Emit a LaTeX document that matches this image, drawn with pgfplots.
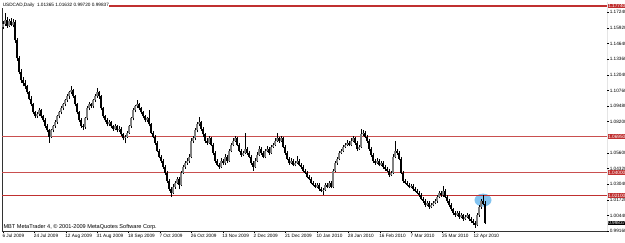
\documentclass[border=0pt]{standalone}
\usepackage{pgfplots}
\pgfplotsset{compat=1.18}
\usepackage{pgfplotstable}
\usepackage{fontspec}
\setmainfont{Liberation Sans}
\definecolor{mtred}{RGB}{192,48,48}
\definecolor{mtblue}{RGB}{130,195,240}
\newcommand\mtfont{\fontsize{4.7}{5.5}\selectfont}
\pgfplotstableread{
i o h l c
0 1.1600 1.1650 1.1585 1.1625
1 1.1625 1.1716 1.1610 1.1660
2 1.1660 1.1680 1.1595 1.1610
3 1.1610 1.1670 1.1600 1.1650
4 1.1650 1.1675 1.1605 1.1620
5 1.1620 1.1668 1.1598 1.1645
6 1.1645 1.1660 1.1470 1.1492
7 1.1492 1.1510 1.1320 1.1343
8 1.1343 1.1360 1.1210 1.1227
9 1.1227 1.1250 1.1140 1.1160
10 1.1160 1.1185 1.1110 1.1135
11 1.1135 1.1160 1.1090 1.1110
12 1.1110 1.1125 1.1045 1.1060
13 1.1060 1.1075 1.0995 1.1010
14 1.1010 1.1030 1.0945 1.0961
15 1.0961 1.0975 1.0880 1.0895
16 1.0895 1.0910 1.0845 1.0862
17 1.0862 1.0900 1.0850 1.0879
18 1.0879 1.0930 1.0865 1.0912
19 1.0912 1.0920 1.0850 1.0862
20 1.0862 1.0875 1.0815 1.0829
21 1.0829 1.0845 1.0770 1.0787
22 1.0787 1.0800 1.0730 1.0746
23 1.0746 1.0760 1.0646 1.0696
24 1.0696 1.0760 1.0685 1.0746
25 1.0746 1.0795 1.0730 1.0779
26 1.0779 1.0830 1.0765 1.0812
27 1.0812 1.0875 1.0800 1.0862
28 1.0862 1.0910 1.0845 1.0895
29 1.0895 1.0945 1.0880 1.0928
30 1.0928 1.0975 1.0915 1.0961
31 1.0961 1.1010 1.0945 1.0995
32 1.0995 1.1045 1.0980 1.1028
33 1.1028 1.1075 1.1010 1.1061
34 1.1061 1.1110 1.1045 1.1077
35 1.1077 1.1090 1.1015 1.1028
36 1.1028 1.1040 1.0945 1.0961
37 1.0961 1.0975 1.0880 1.0895
38 1.0895 1.0910 1.0815 1.0829
39 1.0829 1.0845 1.0770 1.0787
40 1.0787 1.0800 1.0750 1.0771
41 1.0771 1.0860 1.0760 1.0845
42 1.0845 1.0945 1.0830 1.0928
43 1.0928 1.0980 1.0915 1.0961
44 1.0961 1.0975 1.0930 1.0945
45 1.0945 1.1010 1.0930 1.0995
46 1.0995 1.1045 1.0980 1.1028
47 1.1028 1.1095 1.1015 1.1061
48 1.1061 1.1075 1.1010 1.1028
49 1.1028 1.1040 1.0915 1.0928
50 1.0928 1.0940 1.0845 1.0862
51 1.0862 1.0875 1.0815 1.0829
52 1.0829 1.0845 1.0780 1.0796
53 1.0796 1.0830 1.0785 1.0812
54 1.0812 1.0825 1.0765 1.0779
55 1.0779 1.0795 1.0745 1.0762
56 1.0762 1.0800 1.0750 1.0779
57 1.0779 1.0790 1.0730 1.0746
58 1.0746 1.0780 1.0735 1.0762
59 1.0762 1.0775 1.0700 1.0713
60 1.0713 1.0725 1.0665 1.0680
61 1.0680 1.0710 1.0640 1.0696
62 1.0696 1.0745 1.0685 1.0729
63 1.0729 1.0795 1.0715 1.0779
64 1.0779 1.0860 1.0765 1.0845
65 1.0845 1.0930 1.0830 1.0912
66 1.0912 1.0960 1.0895 1.0945
67 1.0945 1.0995 1.0930 1.0961
68 1.0961 1.0975 1.0915 1.0928
69 1.0928 1.0940 1.0880 1.0895
70 1.0895 1.0910 1.0845 1.0862
71 1.0862 1.0875 1.0815 1.0829
72 1.0829 1.0860 1.0815 1.0845
73 1.0845 1.0912 1.0780 1.0796
74 1.0796 1.0810 1.0715 1.0729
75 1.0729 1.0745 1.0680 1.0696
76 1.0696 1.0710 1.0630 1.0646
77 1.0646 1.0660 1.0565 1.0580
78 1.0580 1.0595 1.0515 1.0530
79 1.0530 1.0545 1.0480 1.0497
80 1.0497 1.0510 1.0430 1.0447
81 1.0447 1.0460 1.0380 1.0398
82 1.0398 1.0410 1.0315 1.0331
83 1.0331 1.0345 1.0250 1.0265
84 1.0265 1.0280 1.0195 1.0232
85 1.0232 1.0300 1.0220 1.0282
86 1.0282 1.0330 1.0265 1.0315
87 1.0315 1.0365 1.0300 1.0348
88 1.0348 1.0360 1.0260 1.0298
89 1.0298 1.0415 1.0285 1.0398
90 1.0398 1.0465 1.0385 1.0447
91 1.0447 1.0495 1.0430 1.0480
92 1.0480 1.0515 1.0465 1.0497
93 1.0497 1.0550 1.0480 1.0530
94 1.0530 1.0680 1.0515 1.0663
95 1.0663 1.0700 1.0645 1.0680
96 1.0680 1.0765 1.0665 1.0746
97 1.0746 1.0815 1.0730 1.0796
98 1.0796 1.0854 1.0780 1.0812
99 1.0812 1.0825 1.0745 1.0762
100 1.0762 1.0775 1.0695 1.0713
101 1.0713 1.0725 1.0645 1.0663
102 1.0663 1.0680 1.0630 1.0646
103 1.0646 1.0700 1.0635 1.0680
104 1.0680 1.0695 1.0615 1.0630
105 1.0630 1.0645 1.0545 1.0563
106 1.0563 1.0575 1.0480 1.0497
107 1.0497 1.0510 1.0450 1.0464
108 1.0464 1.0480 1.0430 1.0447
109 1.0447 1.0515 1.0435 1.0497
110 1.0497 1.0510 1.0465 1.0480
111 1.0480 1.0550 1.0465 1.0530
112 1.0530 1.0545 1.0480 1.0497
113 1.0497 1.0595 1.0485 1.0580
114 1.0580 1.0645 1.0565 1.0630
115 1.0630 1.0680 1.0615 1.0663
116 1.0663 1.0700 1.0650 1.0680
117 1.0680 1.0695 1.0615 1.0630
118 1.0630 1.0645 1.0565 1.0580
119 1.0580 1.0595 1.0530 1.0547
120 1.0547 1.0580 1.0535 1.0563
121 1.0563 1.0729 1.0550 1.0597
122 1.0597 1.0610 1.0545 1.0563
123 1.0563 1.0575 1.0515 1.0530
124 1.0530 1.0545 1.0465 1.0480
125 1.0480 1.0495 1.0414 1.0447
126 1.0447 1.0515 1.0435 1.0497
127 1.0497 1.0565 1.0485 1.0547
128 1.0547 1.0615 1.0535 1.0597
129 1.0597 1.0610 1.0545 1.0563
130 1.0563 1.0575 1.0515 1.0530
131 1.0530 1.0595 1.0515 1.0580
132 1.0580 1.0615 1.0565 1.0597
133 1.0597 1.0610 1.0545 1.0563
134 1.0563 1.0630 1.0550 1.0613
135 1.0613 1.0645 1.0600 1.0630
136 1.0630 1.0680 1.0615 1.0663
137 1.0663 1.0729 1.0650 1.0680
138 1.0680 1.0695 1.0645 1.0663
139 1.0663 1.0700 1.0650 1.0680
140 1.0680 1.0695 1.0600 1.0613
141 1.0613 1.0625 1.0545 1.0563
142 1.0563 1.0575 1.0500 1.0514
143 1.0514 1.0525 1.0465 1.0480
144 1.0480 1.0515 1.0470 1.0497
145 1.0497 1.0510 1.0450 1.0464
146 1.0464 1.0495 1.0450 1.0480
147 1.0480 1.0538 1.0470 1.0497
148 1.0497 1.0510 1.0450 1.0464
149 1.0464 1.0475 1.0430 1.0447
150 1.0447 1.0460 1.0400 1.0414
151 1.0414 1.0430 1.0385 1.0398
152 1.0398 1.0410 1.0350 1.0364
153 1.0364 1.0380 1.0335 1.0348
154 1.0348 1.0360 1.0300 1.0315
155 1.0315 1.0330 1.0285 1.0298
156 1.0298 1.0310 1.0268 1.0282
157 1.0282 1.0315 1.0270 1.0298
158 1.0298 1.0310 1.0250 1.0265
159 1.0265 1.0280 1.0235 1.0248
160 1.0248 1.0270 1.0212 1.0256
161 1.0256 1.0315 1.0245 1.0298
162 1.0298 1.0310 1.0268 1.0282
163 1.0282 1.0330 1.0270 1.0315
164 1.0315 1.0325 1.0268 1.0282
165 1.0282 1.0430 1.0270 1.0414
166 1.0414 1.0495 1.0400 1.0480
167 1.0480 1.0530 1.0465 1.0514
168 1.0514 1.0580 1.0500 1.0563
169 1.0563 1.0595 1.0550 1.0580
170 1.0580 1.0630 1.0565 1.0613
171 1.0613 1.0645 1.0600 1.0630
172 1.0630 1.0665 1.0615 1.0646
173 1.0646 1.0660 1.0615 1.0630
174 1.0630 1.0680 1.0615 1.0663
175 1.0663 1.0700 1.0650 1.0680
176 1.0680 1.0695 1.0630 1.0646
177 1.0646 1.0660 1.0580 1.0597
178 1.0597 1.0630 1.0585 1.0613
179 1.0613 1.0762 1.0600 1.0713
180 1.0713 1.0750 1.0700 1.0729
181 1.0729 1.0740 1.0680 1.0696
182 1.0696 1.0710 1.0645 1.0663
183 1.0663 1.0675 1.0580 1.0597
184 1.0597 1.0610 1.0530 1.0547
185 1.0547 1.0560 1.0480 1.0497
186 1.0497 1.0510 1.0465 1.0480
187 1.0480 1.0515 1.0470 1.0497
188 1.0497 1.0510 1.0450 1.0464
189 1.0464 1.0495 1.0450 1.0480
190 1.0480 1.0490 1.0430 1.0447
191 1.0447 1.0460 1.0415 1.0431
192 1.0431 1.0445 1.0400 1.0414
193 1.0414 1.0425 1.0365 1.0381
194 1.0381 1.0415 1.0370 1.0398
195 1.0398 1.0550 1.0385 1.0530
196 1.0530 1.0663 1.0515 1.0580
197 1.0580 1.0595 1.0545 1.0563
198 1.0563 1.0575 1.0500 1.0514
199 1.0514 1.0525 1.0385 1.0398
200 1.0398 1.0410 1.0315 1.0331
201 1.0331 1.0345 1.0300 1.0315
202 1.0315 1.0330 1.0285 1.0298
203 1.0298 1.0310 1.0268 1.0282
204 1.0282 1.0305 1.0270 1.0290
205 1.0290 1.0300 1.0250 1.0265
206 1.0265 1.0280 1.0235 1.0248
207 1.0248 1.0260 1.0218 1.0232
208 1.0232 1.0245 1.0200 1.0215
209 1.0215 1.0228 1.0168 1.0182
210 1.0182 1.0195 1.0150 1.0165
211 1.0165 1.0178 1.0118 1.0132
212 1.0132 1.0165 1.0120 1.0149
213 1.0149 1.0160 1.0100 1.0116
214 1.0116 1.0148 1.0105 1.0132
215 1.0132 1.0165 1.0120 1.0149
216 1.0149 1.0180 1.0135 1.0165
217 1.0165 1.0215 1.0150 1.0199
218 1.0199 1.0248 1.0185 1.0232
219 1.0232 1.0245 1.0200 1.0215
220 1.0215 1.0290 1.0200 1.0248
221 1.0248 1.0260 1.0185 1.0199
222 1.0199 1.0210 1.0150 1.0165
223 1.0165 1.0178 1.0118 1.0132
224 1.0132 1.0145 1.0085 1.0099
225 1.0099 1.0110 1.0050 1.0066
226 1.0066 1.0080 1.0035 1.0049
227 1.0049 1.0085 1.0038 1.0066
228 1.0066 1.0078 1.0018 1.0033
229 1.0033 1.0065 1.0022 1.0049
230 1.0049 1.0060 1.0000 1.0016
231 1.0016 1.0048 1.0005 1.0033
232 1.0033 1.0065 1.0020 1.0049
233 1.0049 1.0060 1.0000 1.0016
234 1.0016 1.0030 0.9985 1.0000
235 1.0000 1.0015 0.9968 0.9983
236 0.9983 0.9998 0.9942 0.9967
237 0.9967 1.0065 0.9955 1.0049
238 1.0049 1.0130 1.0035 1.0116
239 1.0116 1.0180 1.0100 1.0165
240 1.0165 1.0215 1.0130 1.0140
241 1.01365 1.01632 0.99720 0.99837
}\candles
\pgfplotsset{candle/.style={draw=none, mark=none, forget plot,
  error bars/y dir=plus, error bars/y explicit, error bars/error mark=none}}
\begin{document}
\begin{tikzpicture}
\useasboundingbox (0,0) rectangle (625pt,242pt);
\fill[white] (0,0) rectangle (625pt,242pt);
\begin{axis}[
  at={(2pt,11pt)}, anchor=south west,
  scale only axis, width=605pt, height=229pt,
  xmin=-0.5, xmax=302, ymin=0.9916, ymax=1.1807,
  axis line style={draw=none},
  clip=true,
  tick align=outside, major tick length=2pt,
  tick style={black, line width=0.5pt},
  xtick pos=bottom, ytick pos=right,
  yticklabel pos=right,
  xtick={0,15.7,31.4,47.1,62.8,78.5,94.2,109.9,125.6,141.3,157,172.7,188.4,204.1,219.8,235.5},
  xticklabels={6 Jul 2009,24 Jul 2009,12 Aug 2009,31 Aug 2009,18 Sep 2009,7 Oct 2009,26 Oct 2009,13 Nov 2009,2 Dec 2009,21 Dec 2009,10 Jan 2010,28 Jan 2010,16 Feb 2010,7 Mar 2010,25 Mar 2010,12 Apr 2010},
  ytick={0.9916,1.0044,1.0172,1.0304,1.0432,1.0560,1.0820,1.0948,1.1076,1.1204,1.1336,1.1464,1.1592,1.1724},
  yticklabels={0.99160,1.00440,1.01720,1.03040,1.04320,1.05600,1.08200,1.09480,1.10760,1.12040,1.13360,1.14640,1.15920,1.17240},
  xticklabel style={font=\mtfont, anchor=north west, inner sep=0.8pt, xshift=-1.5pt},
  yticklabel style={font=\mtfont, anchor=west, inner sep=0.6pt},
]
% frame lines
\draw[black!80, line width=0.8pt] (rel axis cs:0,0) -- (rel axis cs:0,1);
\draw[black!80, line width=0.8pt] (rel axis cs:0,0) -- (rel axis cs:1,0);
\draw[black!80, line width=0.8pt] (rel axis cs:1,0) -- (rel axis cs:1,1);
% highlight ellipse
\fill[mtblue] (axis cs:240,1.0171) ellipse [x radius=8.5pt, y radius=6.5pt];
% horizontal levels
\addplot[mtred, line width=1.4pt] coordinates {(-0.5,1.1774) (302,1.1774)};
\addplot[mtred!85, line width=1.6pt] coordinates {(-0.5,1.0695) (302,1.0695)};
\addplot[mtred!85, line width=1.4pt] coordinates {(-0.5,1.0400) (302,1.0400)};
\addplot[mtred, line width=1.4pt] coordinates {(-0.5,1.0210) (302,1.0210)};
% wicks
\addplot[candle, error bars/error bar style={draw=black, line width=0.8pt}]
  table[x=i, y=l, y error plus expr={\thisrow{h}-\thisrow{l}}] {\candles};
% bullish bodies
\addplot[candle, error bars/error bar style={draw=black!50, line width=1.6pt}]
  table[x=i, y=o, y error plus expr={max(\thisrow{c}-\thisrow{o},0)}] {\candles};
% bearish bodies
\addplot[candle, error bars/error bar style={draw=black, line width=1.6pt}]
  table[x=i, y=c, y error plus expr={max(\thisrow{o}-\thisrow{c},0)}] {\candles};
\node[anchor=north west, fill=white, inner sep=0.6pt, font=\mtfont] at (rel axis cs:0,1) {USDCAD,Daily\ \ 1.01365 1.01632 0.99720 0.99837};
\node[anchor=south west, inner sep=0.8pt, font=\fontsize{5.6}{6}\selectfont, xshift=0.5pt, yshift=0.5pt] at (rel axis cs:0,0) {MBT MetaTrader 4, © 2001-2009 MetaQuotes Software Corp.};
\coordinate (r1) at (axis cs:302,1.1774);
\coordinate (r2) at (axis cs:302,1.0695);
\coordinate (r3) at (axis cs:302,1.0400);
\coordinate (r4) at (axis cs:302,1.0210);
\coordinate (bk) at (axis cs:302,0.99837);
\end{axis}
\foreach \p/\t in {r1/1.17740,r2/1.06950,r3/1.04000,r4/1.02100}{
  \node[anchor=west, fill=mtred, text=white, inner sep=0.6pt, font=\mtfont, xshift=0.5pt] at (\p) {\t};
}
\node[anchor=west, fill=black, text=white, inner sep=0.6pt, font=\mtfont, xshift=0.5pt] at (bk) {0.99837};
\end{tikzpicture}
\end{document}
